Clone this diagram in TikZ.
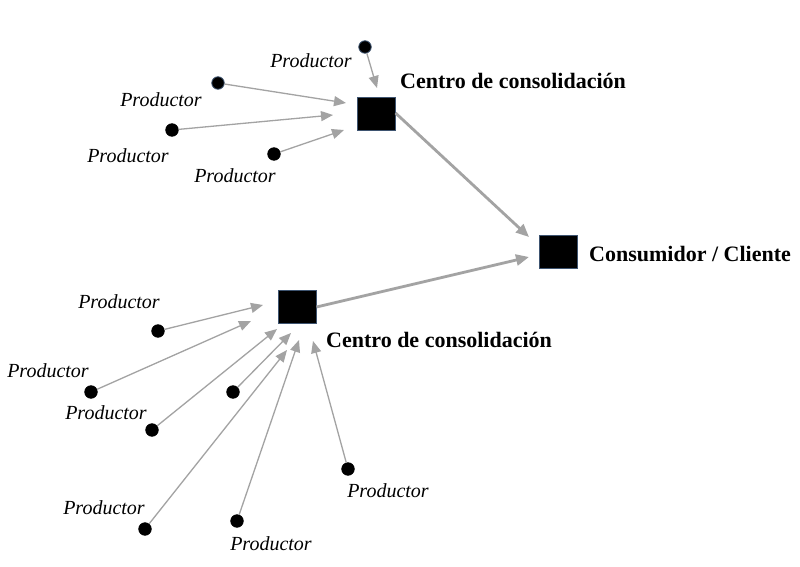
\documentclass[tikz,border=0pt]{standalone}
\usepackage{fontspec}
\setmainfont{Liberation Serif}
\usetikzlibrary{arrows.meta}
\definecolor{arrowgray}{HTML}{A3A3A3}
\definecolor{boxedge}{HTML}{3E5470}
\tikzset{
  prod/.style={circle,fill=black,draw=black,line width=0.8pt,minimum size=12.5pt,inner sep=0pt},
  prodb/.style={prod,draw=boxedge},
  hub/.style={rectangle,fill=black,draw=boxedge,line width=1pt,minimum width=38pt,minimum height=33pt,inner sep=0pt},
  lab/.style={inner sep=0pt,font=\fontsize{20}{24}\selectfont\itshape},
  blab/.style={inner sep=0pt,font=\fontsize{22}{26}\selectfont\bfseries},
  thin/.style={draw=arrowgray,line width=1.3pt,-{Triangle[length=12pt,width=10pt]},arrowgray},
  thick/.style={draw=arrowgray,line width=2.8pt,-{Triangle[length=13pt,width=11pt]},arrowgray}
}
\begin{document}
\begin{tikzpicture}[x=1pt,y=-1pt]
\useasboundingbox[fill=white] (0,0) rectangle (800,567);
% hubs
\node[hub] (c1) at (376,114) {};
\node[hub] (c2) at (297,307) {};
\node[hub] (cons) at (558,252) {};
\node[blab,anchor=west] (t1) at (400,81) {Centro de consolidación};
\node[blab,anchor=west] (t2) at (326,340) {Centro de consolidación};
\node[blab,anchor=west] (t3) at (589,254) {Consumidor / Cliente};
% top producers
\node[prodb] (p1) at (365,47) {};
\node[prodb] (p2) at (218,83) {};
\node[prod] (p3) at (172,130) {};
\node[prod] (p4) at (274,154) {};
\node[lab] (l1) at (311,61) {Productor};
\node[lab] (l2) at (161,100) {Productor};
\node[lab] (l3) at (128,156) {Productor};
\node[lab] (l4) at (235,176) {Productor};
\coordinate (e1) at (377,88);
\coordinate (e2) at (346,103);
\coordinate (e3) at (333,115);
\coordinate (e4) at (344,130);
\draw[thin] (p1) -- (e1);
\draw[thin] (p2) -- (e2);
\draw[thin] (p3) -- (e3);
\draw[thin] (p4) -- (e4);
% bottom producers
\node[prod] (d1) at (158,331) {};
\node[prod] (d2) at (91,392) {};
\node[prod] (d3) at (152,430) {};
\node[prod] (d4) at (233,392) {};
\node[prod] (d5) at (145,529) {};
\node[prod] (d6) at (237,521) {};
\node[prod] (d7) at (348,469) {};
\node[lab] (m1) at (119,302) {Productor};
\node[lab] (m2) at (48,371) {Productor};
\node[lab] (m3) at (106,413) {Productor};
\node[lab] (m5) at (104,508) {Productor};
\node[lab] (m6) at (271,544) {Productor};
\node[lab] (m7) at (388,491) {Productor};
\coordinate (f1) at (263,305);
\coordinate (f2) at (251,321);
\coordinate (f3) at (277,329);
\coordinate (f4) at (291,333);
\coordinate (f5) at (287,350);
\coordinate (f6) at (299,340);
\coordinate (f7) at (313,341);
\draw[thin] (d1) -- (f1);
\draw[thin] (d2) -- (f2);
\draw[thin] (d3) -- (f3);
\draw[thin] (d4) -- (f4);
\draw[thin] (d5) -- (f5);
\draw[thin] (d6) -- (f6);
\draw[thin] (d7) -- (f7);
% hub to consumer
\coordinate (g1) at (529,237);
\coordinate (g2) at (529,257);
\draw[thick] (c1.east) ++(0,-1) -- (g1);
\draw[thick] (c2.east) -- (g2);
\end{tikzpicture}
\end{document}
